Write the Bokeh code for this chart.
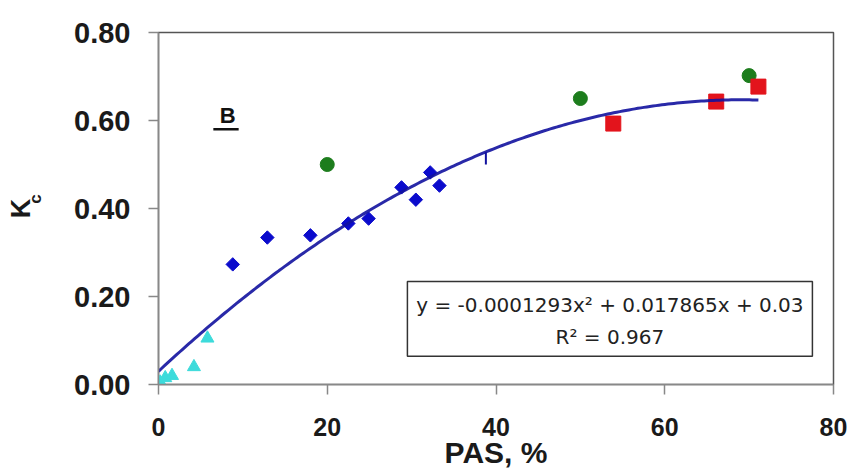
import numpy as np
from bokeh.plotting import figure
from bokeh.models import Range1d, FixedTicker, Label, Title
from bokeh.embed import file_html
from bokeh.resources import INLINE

# ---- data ----
tri_x = [0.2, 0.8, 1.6, 4.2, 5.8]
tri_y = [0.005, 0.015, 0.02, 0.04, 0.105]

dia_x = [8.8, 12.9, 18.0, 22.5, 24.9, 28.8, 30.5, 32.2, 33.3]
dia_y = [0.273, 0.334, 0.339, 0.366, 0.377, 0.448, 0.420, 0.482, 0.452]

cir_x = [20.0, 50.0, 70.0]
cir_y = [0.50, 0.650, 0.702]

sq_x = [53.9, 66.1, 71.1]
sq_y = [0.593, 0.643, 0.677]

# trend line coefficients (as printed on the chart)
coef_a = -0.0001293
coef_b = 0.017865
coef_c = 0.03
fit_x_min = 0.0
fit_x_max = 71.1

mark_x = [38.8]
mark_y0 = [0.50]

x_ticks = [0, 20, 40, 60, 80]
x_tick_labels = ["0", "20", "40", "60", "80"]
y_ticks = [0.0, 0.2, 0.4, 0.6, 0.8]
y_tick_labels = ["0.00", "0.20", "0.40", "0.60", "0.80"]

eq_text = "y = -0.0001293x\u00b2 + 0.017865x + 0.03"
r2_text = "R\u00b2 = 0.967"

# ---- figure ----
p = figure(width=851, height=471, output_backend="svg", toolbar_location=None,
           x_range=Range1d(0, 80), y_range=Range1d(0, 0.8))
p.min_border_left = 158
p.min_border_right = 18
p.min_border_top = 32
p.min_border_bottom = 87
p.background_fill_color = "white"
p.border_fill_color = "white"
p.xgrid.visible = False
p.ygrid.visible = False
p.outline_line_color = "#555555"
p.outline_line_width = 1.5

for ax in (p.xaxis[0], p.yaxis[0]):
    ax.axis_line_color = "#888888"
    ax.axis_line_width = 1.5
    ax.major_tick_line_color = "#888888"
    ax.major_tick_line_width = 1.5
    ax.major_tick_in = 0
    ax.major_tick_out = 10
    ax.minor_tick_line_color = None
    ax.major_label_text_font = "Liberation Sans"
    ax.major_label_text_font_style = "bold"
    ax.major_label_text_color = "#1a1a1a"
    ax.axis_label_text_font = "Liberation Sans"
    ax.axis_label_text_font_style = "bold"
    ax.axis_label_text_color = "#1a1a1a"

p.xaxis.ticker = FixedTicker(ticks=x_ticks)
p.xaxis.major_label_overrides = {t: l for t, l in zip(x_ticks, x_tick_labels)}
p.xaxis.major_label_text_font_size = "25px"
p.xaxis.major_label_standoff = 23
p.xaxis.axis_label = "PAS, %"
p.xaxis.axis_label_text_font_size = "30px"
p.xaxis.axis_label_standoff = -3

p.yaxis.ticker = FixedTicker(ticks=y_ticks)
p.yaxis.major_label_overrides = {t: l for t, l in zip(y_ticks, y_tick_labels)}
p.yaxis.major_label_text_font_size = "29px"
p.yaxis.major_label_standoff = 18
# subscript "c" of the y title is the axis label (leading figure spaces lift it)
p.yaxis.axis_label = "\u2007\u2007c"
p.yaxis.axis_label_text_font_size = "17px"
p.yaxis.axis_label_standoff = 26

# main letter "K" of the y title, pulled in toward the subscript
p.add_layout(Title(text="K", align="center", standoff=-25,
                   text_font="Liberation Sans", text_font_style="bold",
                   text_font_size="27px", text_color="#1a1a1a"), "left")

# equation box
p.quad(left=[29.5], right=[77.5], bottom=[0.064], top=[0.234],
       fill_color="white", line_color="#333333", line_width=1.5)

# markers
p.scatter(tri_x, tri_y, marker="triangle", size=13, fill_color="#3ddbdb",
          line_color="#3ddbdb")
p.scatter(dia_x, dia_y, marker="square", angle=np.pi / 4, size=9.5,
          fill_color="#0b0bcc", line_color="#0b0bcc")
p.scatter(cir_x, cir_y, marker="circle", size=14, fill_color="#1d7d1d",
          line_color="#1d7d1d")
p.scatter(sq_x, sq_y, marker="square", size=15, fill_color="#e3141c",
          line_color="#e3141c")

# trend line
fx = np.linspace(fit_x_min, fit_x_max, 200)
fy = coef_a * fx ** 2 + coef_b * fx + coef_c
p.line(fx, fy, line_color="#12129e", line_width=3, line_alpha=0.9)

# small vertical mark under the curve
mx = np.array(mark_x)
my1 = coef_a * mx ** 2 + coef_b * mx + coef_c
p.segment(x0=mx, y0=mark_y0, x1=mx, y1=my1, line_color="#12129e", line_width=2)

# "B" panel label with underline
p.add_layout(Label(x=8.2, y=0.611, text="B", text_align="center",
                   text_baseline="middle", text_font="Liberation Sans",
                   text_font_style="bold", text_font_size="22px",
                   text_color="#111111"))
p.segment(x0=[6.5], y0=[0.58], x1=[9.5], y1=[0.58], line_color="#111111",
          line_width=2.5)

# equation texts
p.add_layout(Label(x=53.5, y=0.18, text=eq_text, text_align="center",
                   text_baseline="middle", text_font="DejaVu Sans",
                   text_font_size="20px", text_color="#222222"))
p.add_layout(Label(x=53.5, y=0.109, text=r2_text, text_align="center",
                   text_baseline="middle", text_font="DejaVu Sans",
                   text_font_size="20px", text_color="#222222"))

open("out.html", "w").write(file_html(p, INLINE))
